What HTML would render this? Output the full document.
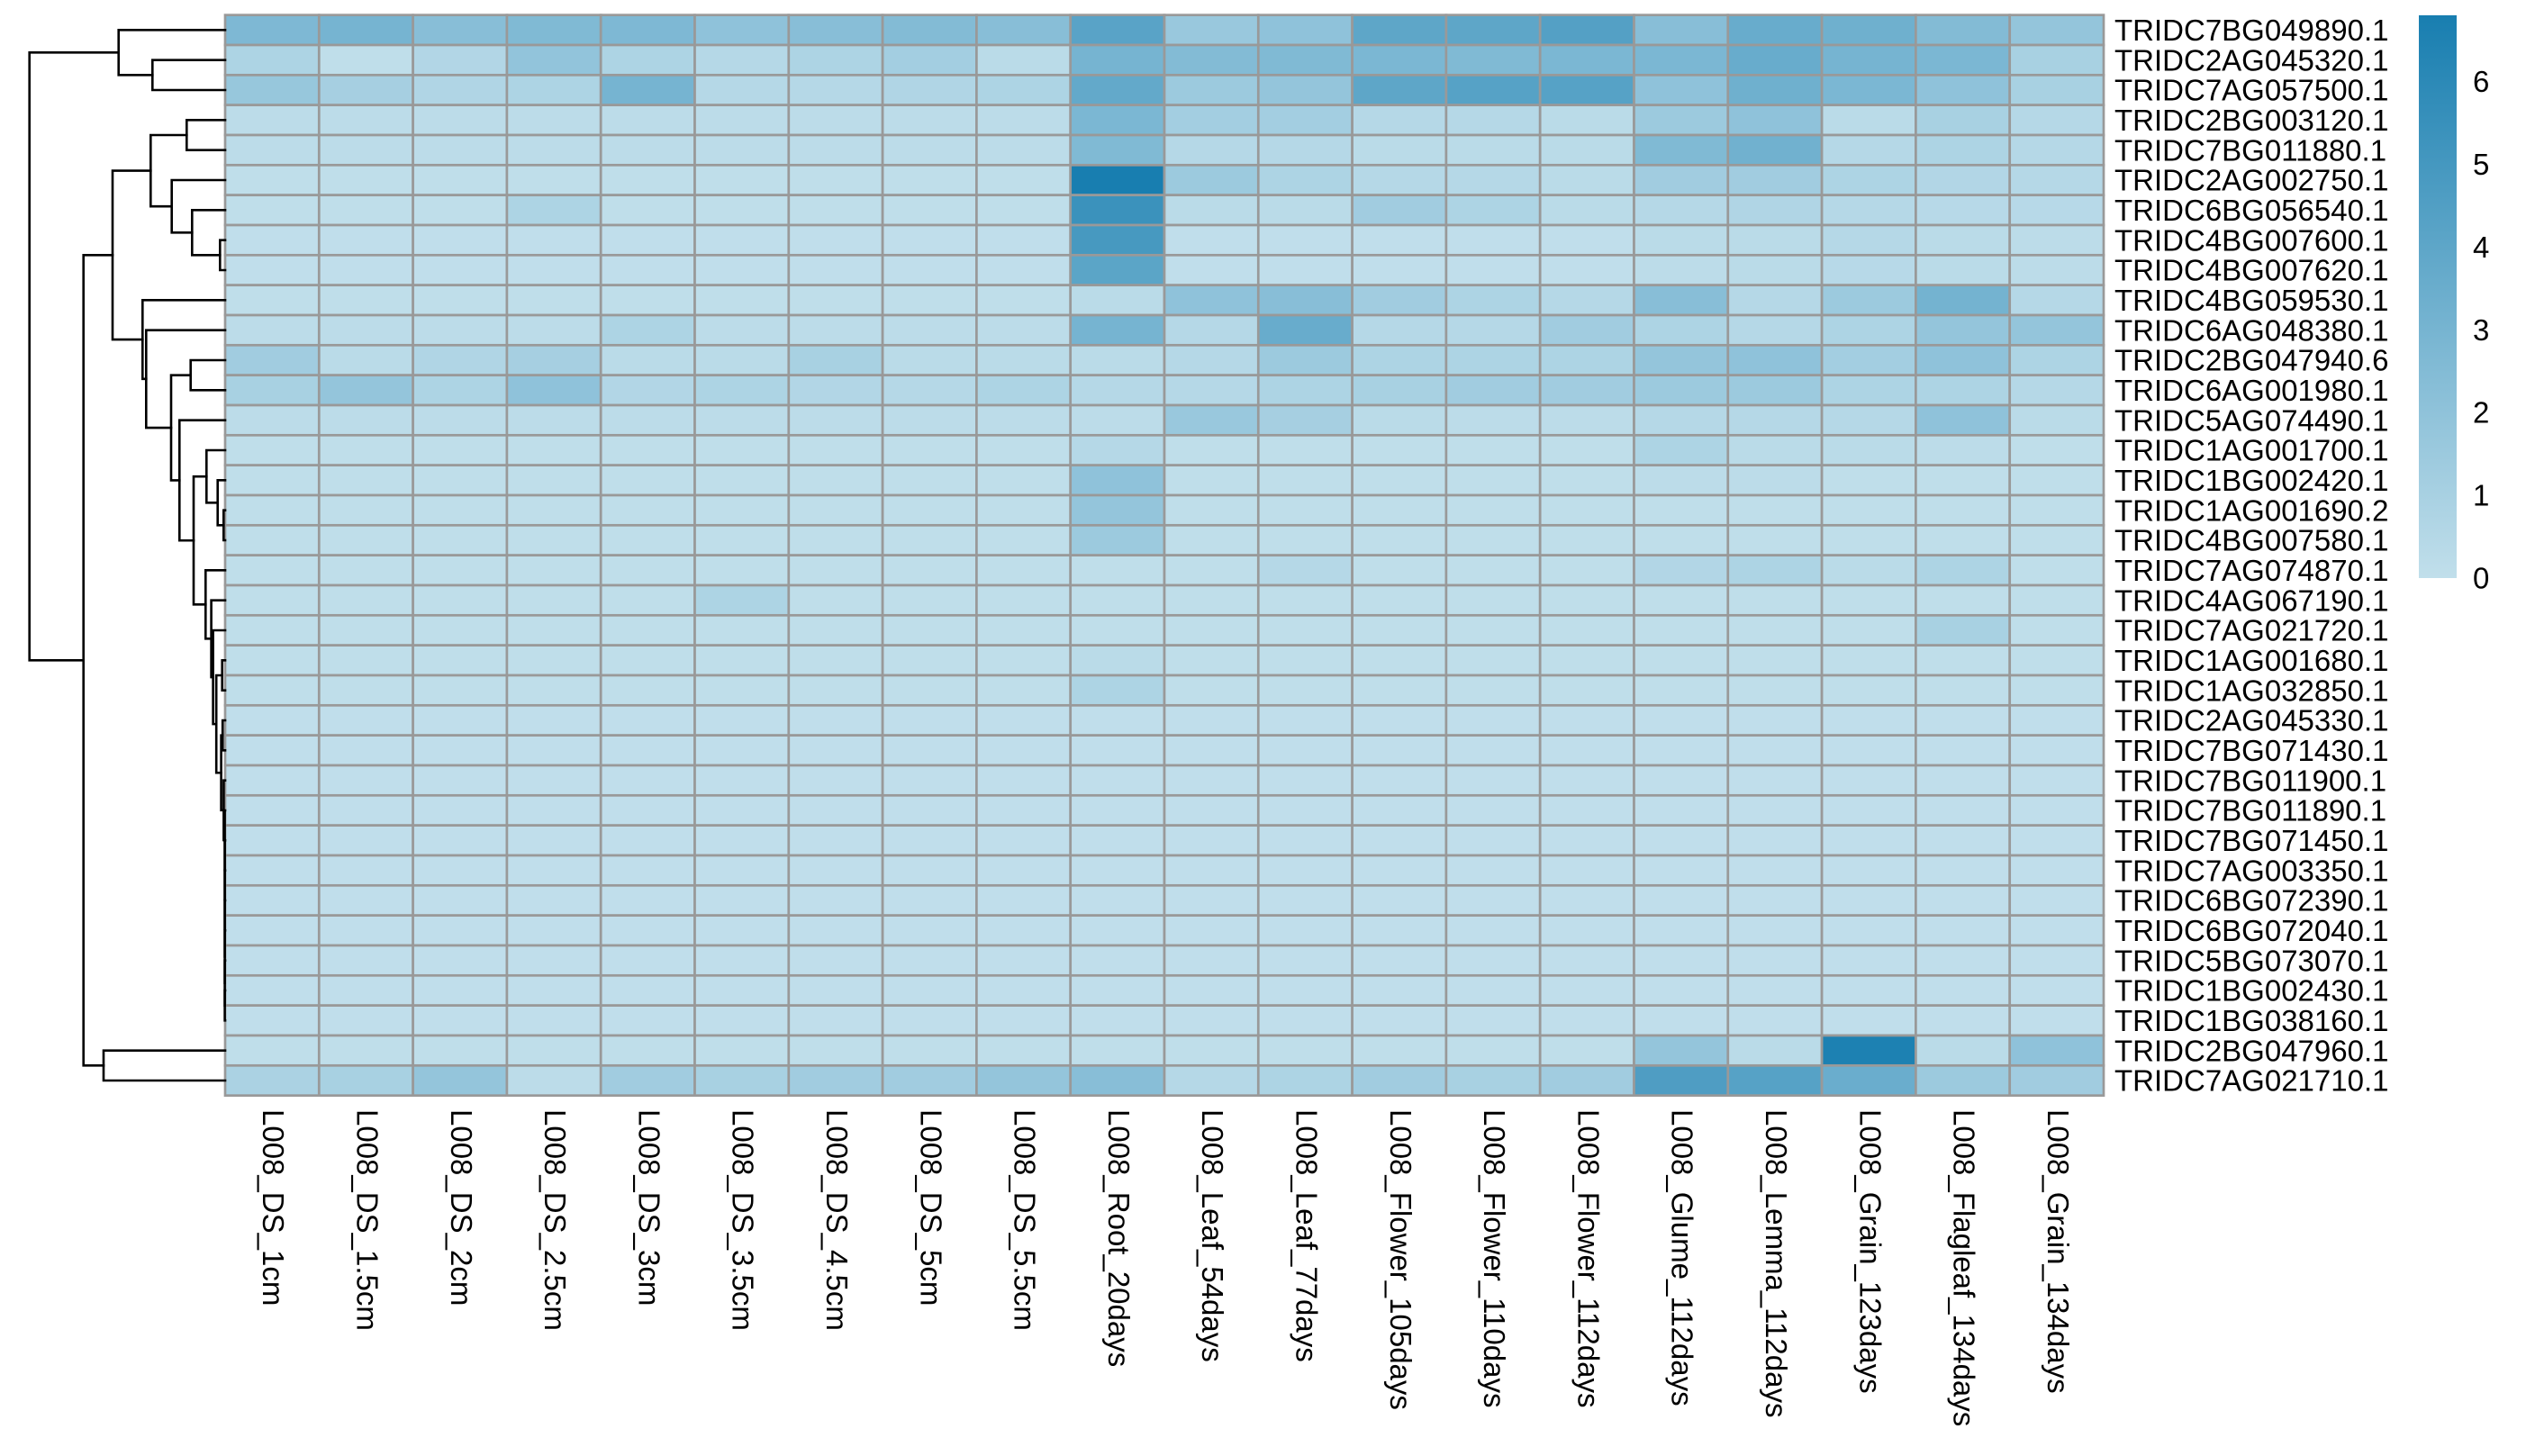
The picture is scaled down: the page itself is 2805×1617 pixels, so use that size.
<!DOCTYPE html>
<html>
<head>
<meta charset="utf-8">
<style>
  html, body { margin:0; padding:0; background:#ffffff; }
  svg { display:block; }
  text { font-family: "Liberation Sans", Arial, sans-serif; fill:#000; }
</style>
</head>
<body>
<svg id="chart" xmlns="http://www.w3.org/2000/svg" width="2805" height="1617" viewBox="0 0 2805 1617">
  <rect x="0" y="0" width="2805" height="1617" fill="#ffffff"/>
  <defs>
    <linearGradient id="cbar" x1="0" y1="1" x2="0" y2="0">
      <stop offset="0" stop-color="rgb(193,223,235)"/>
      <stop offset="1" stop-color="rgb(24,126,176)"/>
    </linearGradient>
  </defs>
  <g id="cells"></g>
  <g id="dendro" fill="none" stroke="#000" stroke-width="2.6" stroke-linejoin="miter" stroke-linecap="square"></g>

  <!-- colour bar -->
  <rect x="2686" y="17" width="42" height="625" fill="url(#cbar)"/>
  <g font-size="33">
    <text x="2746" y="653.5">0</text>
    <text x="2746" y="561.6">1</text>
    <text x="2746" y="469.7">2</text>
    <text x="2746" y="377.8">3</text>
    <text x="2746" y="285.9">4</text>
    <text x="2746" y="194">5</text>
    <text x="2746" y="102.1">6</text>
  </g>

  <!-- row labels -->
  <g font-size="33">
    <text x="2348" y="45">TRIDC7BG049890.1</text>
    <text x="2348" y="78.3">TRIDC2AG045320.1</text>
    <text x="2348" y="111.7">TRIDC7AG057500.1</text>
    <text x="2348" y="145">TRIDC2BG003120.1</text>
    <text x="2348" y="178.3">TRIDC7BG011880.1</text>
    <text x="2348" y="211.7">TRIDC2AG002750.1</text>
    <text x="2348" y="245">TRIDC6BG056540.1</text>
    <text x="2348" y="278.3">TRIDC4BG007600.1</text>
    <text x="2348" y="311.7">TRIDC4BG007620.1</text>
    <text x="2348" y="345">TRIDC4BG059530.1</text>
    <text x="2348" y="378.3">TRIDC6AG048380.1</text>
    <text x="2348" y="411.7">TRIDC2BG047940.6</text>
    <text x="2348" y="445">TRIDC6AG001980.1</text>
    <text x="2348" y="478.3">TRIDC5AG074490.1</text>
    <text x="2348" y="511.7">TRIDC1AG001700.1</text>
    <text x="2348" y="545">TRIDC1BG002420.1</text>
    <text x="2348" y="578.3">TRIDC1AG001690.2</text>
    <text x="2348" y="611.7">TRIDC4BG007580.1</text>
    <text x="2348" y="645">TRIDC7AG074870.1</text>
    <text x="2348" y="678.3">TRIDC4AG067190.1</text>
    <text x="2348" y="711.7">TRIDC7AG021720.1</text>
    <text x="2348" y="745">TRIDC1AG001680.1</text>
    <text x="2348" y="778.3">TRIDC1AG032850.1</text>
    <text x="2348" y="811.7">TRIDC2AG045330.1</text>
    <text x="2348" y="845">TRIDC7BG071430.1</text>
    <text x="2348" y="878.3">TRIDC7BG011900.1</text>
    <text x="2348" y="911.7">TRIDC7BG011890.1</text>
    <text x="2348" y="945">TRIDC7BG071450.1</text>
    <text x="2348" y="978.3">TRIDC7AG003350.1</text>
    <text x="2348" y="1011.7">TRIDC6BG072390.1</text>
    <text x="2348" y="1045">TRIDC6BG072040.1</text>
    <text x="2348" y="1078.3">TRIDC5BG073070.1</text>
    <text x="2348" y="1111.7">TRIDC1BG002430.1</text>
    <text x="2348" y="1145">TRIDC1BG038160.1</text>
    <text x="2348" y="1178.3">TRIDC2BG047960.1</text>
    <text x="2348" y="1211.7">TRIDC7AG021710.1</text>
  </g>

  <!-- column labels -->
  <g font-size="33">
    <text transform="translate(292.2,1232) rotate(90)">L008_DS_1cm</text>
    <text transform="translate(396.5,1232) rotate(90)">L008_DS_1.5cm</text>
    <text transform="translate(500.8,1232) rotate(90)">L008_DS_2cm</text>
    <text transform="translate(605.1,1232) rotate(90)">L008_DS_2.5cm</text>
    <text transform="translate(709.4,1232) rotate(90)">L008_DS_3cm</text>
    <text transform="translate(813.7,1232) rotate(90)">L008_DS_3.5cm</text>
    <text transform="translate(918,1232) rotate(90)">L008_DS_4.5cm</text>
    <text transform="translate(1022.3,1232) rotate(90)">L008_DS_5cm</text>
    <text transform="translate(1126.6,1232) rotate(90)">L008_DS_5.5cm</text>
    <text transform="translate(1230.9,1232) rotate(90)">L008_Root_20days</text>
    <text transform="translate(1335.2,1232) rotate(90)">L008_Leaf_54days</text>
    <text transform="translate(1439.5,1232) rotate(90)">L008_Leaf_77days</text>
    <text transform="translate(1543.8,1232) rotate(90)">L008_Flower_105days</text>
    <text transform="translate(1648.1,1232) rotate(90)">L008_Flower_110days</text>
    <text transform="translate(1752.4,1232) rotate(90)">L008_Flower_112days</text>
    <text transform="translate(1856.7,1232) rotate(90)">L008_Glume_112days</text>
    <text transform="translate(1961,1232) rotate(90)">L008_Lemma_112days</text>
    <text transform="translate(2065.3,1232) rotate(90)">L008_Grain_123days</text>
    <text transform="translate(2169.6,1232) rotate(90)">L008_Flagleaf_134days</text>
    <text transform="translate(2273.9,1232) rotate(90)">L008_Grain_134days</text>
  </g>
</svg>

<script>
(function(){
  var NS = "http://www.w3.org/2000/svg";
  var X0 = 250, Y0 = 16.67, CW = 104.3, RH = 33.333;
  var C0 = [193,223,235], C1 = [24,126,176], VMAX = 6.8;

  function row(base, o){ var a=[]; for(var i=0;i<20;i++) a.push(base); for(var k in o) a[+k]=o[k]; return a; }

  var V = [
    [2.7,3.0,2.3,2.6,2.7,2.0,2.3,2.5,2.3,4.2,1.6,2.0,4.0,4.0,4.4,2.3,3.6,3.3,2.5,1.8],
    [0.8,0.1,0.6,1.9,0.8,0.5,0.8,1.2,0.3,3.0,2.5,2.6,2.8,2.6,2.8,2.8,3.6,3.0,2.8,1.0],
    [1.7,1.1,0.7,0.8,3.0,0.5,0.5,0.7,0.8,3.8,1.5,1.8,4.0,4.3,4.3,2.0,3.3,2.8,2.0,1.0],
    row(0.2,{9:2.8,10:1.2,11:1.2,12:0.5,13:0.5,14:0.3,15:1.5,16:2.0,17:0.3,18:1.0,19:0.5}),
    row(0.2,{9:2.6,10:0.5,11:0.5,12:0.3,13:0.3,14:0.3,15:2.6,16:3.2,17:0.5,18:0.8,19:0.5}),
    row(0.1,{9:6.8,10:1.5,11:0.8,12:0.5,13:0.5,14:0.3,15:1.3,16:1.3,17:0.8,18:0.6,19:0.5}),
    row(0.1,{3:0.8,9:5.4,10:0.3,11:0.3,12:1.3,13:0.8,14:0.3,15:0.5,16:0.7,17:0.5,18:0.4,19:0.4}),
    row(0.05,{9:4.9,15:0.3,16:0.3,17:0.5,18:0.3,19:0.2}),
    row(0.05,{9:4.1,15:0.2,16:0.3,17:0.4,18:0.3,19:0.2}),
    [0.1,0.1,0.1,0.1,0.1,0.1,0.1,0.1,0.1,0.3,2.0,2.3,1.3,0.8,0.5,2.3,0.5,1.5,3.1,0.5],
    [0.2,0.2,0.2,0.2,0.8,0.2,0.2,0.2,0.2,3.0,0.5,3.6,0.5,0.5,1.3,0.8,0.5,0.8,1.8,1.8],
    [1.3,0.3,0.7,1.1,0.3,0.3,1.0,0.3,0.3,0.3,0.5,1.5,0.8,0.8,0.8,1.8,2.0,1.2,2.0,0.8],
    [1.0,1.8,0.8,2.0,0.6,0.8,0.6,0.5,0.8,0.5,0.5,0.8,1.0,1.3,1.3,1.5,1.5,0.8,0.8,0.5],
    row(0.2,{10:1.6,11:1.1,12:0.3,15:0.5,16:0.5,17:0.5,18:2.0,19:0.3}),
    row(0.1,{9:0.5,15:0.8,16:0.3,17:0.3,18:0.2}),
    row(0.1,{9:2.0,15:0.2,16:0.2}),
    row(0.1,{9:1.8}),
    row(0.1,{9:1.5}),
    row(0.1,{11:0.5,15:0.6,16:0.8,17:0.3,18:0.8}),
    row(0.1,{5:0.8}),
    row(0.1,{18:1.0}),
    row(0.1,{9:0.3}),
    row(0.1,{9:0.8}),
    row(0.05,{}),row(0.05,{}),row(0.05,{}),row(0.05,{}),row(0.05,{}),
    row(0.05,{}),row(0.05,{}),row(0.05,{}),row(0.05,{}),row(0.05,{}),row(0.05,{}),
    row(0.1,{15:1.8,16:0.3,17:6.6,18:0.3,19:2.0}),
    [0.9,1.0,1.8,0.2,1.3,1.0,1.3,1.3,1.8,2.3,0.5,0.8,1.3,1.0,1.3,4.6,4.3,3.5,1.5,1.3]
  ];

  function col(v){
    var t = Math.max(0, Math.min(1, v / VMAX));
    var r = Math.round(C0[0] + (C1[0]-C0[0])*t);
    var g = Math.round(C0[1] + (C1[1]-C0[1])*t);
    var b = Math.round(C0[2] + (C1[2]-C0[2])*t);
    return "rgb("+r+","+g+","+b+")";
  }

  var cells = document.getElementById("cells");
  for (var i=0;i<36;i++){
    for (var j=0;j<20;j++){
      var r = document.createElementNS(NS,"rect");
      r.setAttribute("x", (X0 + j*CW).toFixed(2));
      r.setAttribute("y", (Y0 + i*RH).toFixed(2));
      r.setAttribute("width", CW.toFixed(2));
      r.setAttribute("height", RH.toFixed(2));
      r.setAttribute("fill", col(V[i][j]));
      r.setAttribute("stroke", "#999999");
      r.setAttribute("stroke-width", "2.7");
      cells.appendChild(r);
    }
  }

  // dendrogram
  var d = document.getElementById("dendro");
  function L(i){ return {x:250, y: Y0 + RH*(i+0.5)}; }
  function N(x, a, b){
    var p = document.createElementNS(NS,"path");
    p.setAttribute("d","M"+a.x.toFixed(2)+" "+a.y.toFixed(2)+" H"+x.toFixed(2)+" V"+b.y.toFixed(2)+" H"+b.x.toFixed(2));
    d.appendChild(p);
    return {x:x, y:(a.y+b.y)/2};
  }
  var n12 = N(169.3, L(1), L(2));
  var A = N(131.7, L(0), n12);
  var n34 = N(207.3, L(3), L(4));
  var n78 = N(244.3, L(7), L(8));
  var n68 = N(213.3, L(6), n78);
  var n58 = N(190.7, L(5), n68);
  var C = N(167.3, n34, n58);
  var n1112 = N(211.7, L(11), L(12));
  var n1617 = N(248.3, L(16), L(17));
  var n1517 = N(241.7, L(15), n1617);
  var I = N(229.3, L(14), n1517);
  var n2324 = N(247.2, L(23), L(24));
  var t = L(33);
  for (var k=32;k>=26;k--){ t = N(249.6, L(k), t); }
  var n2533 = N(248.4, L(25), t);
  var Nn = N(245.6, n2324, n2533);
  var n2122 = N(246.7, L(21), L(22));
  var M = N(240.2, n2122, Nn);
  var Ln = N(236.6, L(20), M);
  var K = N(234.6, L(19), Ln);
  var J = N(228.3, L(18), K);
  var H = N(215, I, J);
  var G = N(199.3, L(13), H);
  var F = N(190, n1112, G);
  var E = N(162.3, L(10), F);
  var D = N(158.3, L(9), E);
  var Bu = N(125, C, D);
  var n3435 = N(115, L(34), L(35));
  var B = N(92.7, Bu, n3435);
  N(32.7, A, B);
})();
</script>
</body>
</html>
